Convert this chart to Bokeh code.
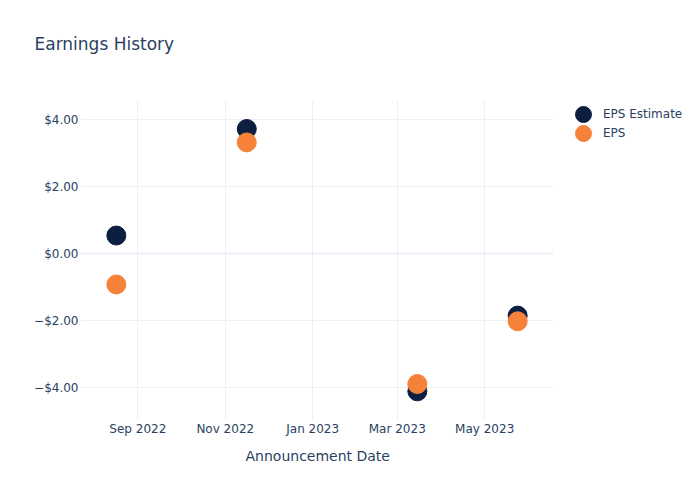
import pandas as pd
from bokeh.plotting import figure
from bokeh.models import (Range1d, FixedTicker, CustomJSTickFormatter, DatetimeTickFormatter,
                          Legend, LegendItem, BoxAnnotation, Title)
from bokeh.embed import file_html
from bokeh.resources import INLINE

dates = ["2022-08-17", "2022-11-16", "2023-03-15", "2023-05-24"]
eps_estimate = [0.55, 3.73, -4.10, -1.84]
eps_actual = [-0.91, 3.33, -3.88, -2.01]
x_ticks = ["2022-09-01", "2022-11-01", "2023-01-01", "2023-03-01", "2023-05-01"]
y_ticks = [-4, -2, 0, 2, 4]

TEXT = "#2a3f5f"
GRID = "#ebf0f8"
NAVY = "#0c1f41"
ORANGE = "#f6823a"

xd = pd.to_datetime(dates)
to_ms = lambda s: pd.Timestamp(s).value / 1e6

# plotting area: 80..553 px wide (473 px) of data; canvas frame extends to 700
x0, x1 = to_ms("2022-07-23"), to_ms("2023-06-18")
x_end = x0 + (x1 - x0) * 620 / 473

p = figure(width=700, height=500, x_axis_type="datetime", output_backend="svg",
           toolbar_location=None,
           x_range=Range1d(x0, x_end),
           y_range=Range1d(-4.97, 4.58),
           min_border_left=80, min_border_right=0, min_border_top=100, min_border_bottom=80)
p.outline_line_color = None
p.background_fill_color = "white"
p.border_fill_color = "white"

p.title.text = "Earnings History\n "
p.title.text_font = "DejaVu Sans"
p.title.text_font_size = "17px"
p.title.text_font_style = "normal"
p.title.text_color = TEXT
p.title.offset = -46
p.title.vertical_align = "top"
p.title.standoff = 50

r1 = p.scatter(xd, eps_estimate, size=19, color=NAVY, line_color=NAVY)
r2 = p.scatter(xd, eps_actual, size=19, color=ORANGE, line_color=ORANGE)

for ax in (p.xaxis[0], p.yaxis[0]):
    ax.axis_line_color = None
    ax.major_tick_line_color = None
    ax.minor_tick_line_color = None
    ax.major_tick_out = 0
    ax.major_tick_in = 0
    ax.minor_tick_out = 0
    ax.minor_tick_in = 0
    ax.major_label_text_font = "DejaVu Sans"
    ax.major_label_text_font_size = "12px"
    ax.major_label_text_color = TEXT

p.xaxis.ticker = FixedTicker(ticks=[to_ms(t) for t in x_ticks])
p.xaxis.formatter = DatetimeTickFormatter(months="%b %Y", days="%b %Y", years="%b %Y")
p.xaxis.major_label_standoff = 1

xlabel = Title(text="Announcement Date", align="left", offset=165, vertical_align="top",
               standoff=18, text_font="DejaVu Sans", text_font_size="14px",
               text_font_style="normal", text_color=TEXT)
p.add_layout(xlabel, "below")

p.yaxis.ticker = FixedTicker(ticks=y_ticks)
p.yaxis.formatter = CustomJSTickFormatter(
    code="return (tick < 0 ? '\u2212' : '') + '$' + Math.abs(tick).toFixed(2);")
p.yaxis.major_label_standoff = 2

p.xgrid.grid_line_color = GRID
p.ygrid.grid_line_color = GRID
p.ygrid.grid_line_width = 1

# zero line
p.hspan(y=[0], line_color=GRID, line_width=2)

# blank margin to the right of the plotting area (legend area)
p.add_layout(BoxAnnotation(left=x1, fill_color="white", fill_alpha=1, line_color=None))


def make_legend(label, renderer, top_px):
    lg = Legend(items=[LegendItem(label=label, renderers=[renderer])],
                location=(483, 420 - (top_px + 40)), orientation="vertical")
    lg.border_line_color = None
    lg.background_fill_alpha = 0
    lg.label_text_font = "DejaVu Sans"
    lg.label_text_font_size = "12px"
    lg.label_text_color = TEXT
    lg.glyph_width = 40
    lg.glyph_height = 40
    lg.label_height = 40
    lg.spacing = 0
    lg.padding = 0
    lg.margin = 0
    lg.label_standoff = 0
    lg.label_text_baseline = "middle"
    return lg


p.add_layout(make_legend("EPS Estimate", r1, 94))
p.add_layout(make_legend("EPS", r2, 113))

open("out.html", "w").write(file_html(p, INLINE))
